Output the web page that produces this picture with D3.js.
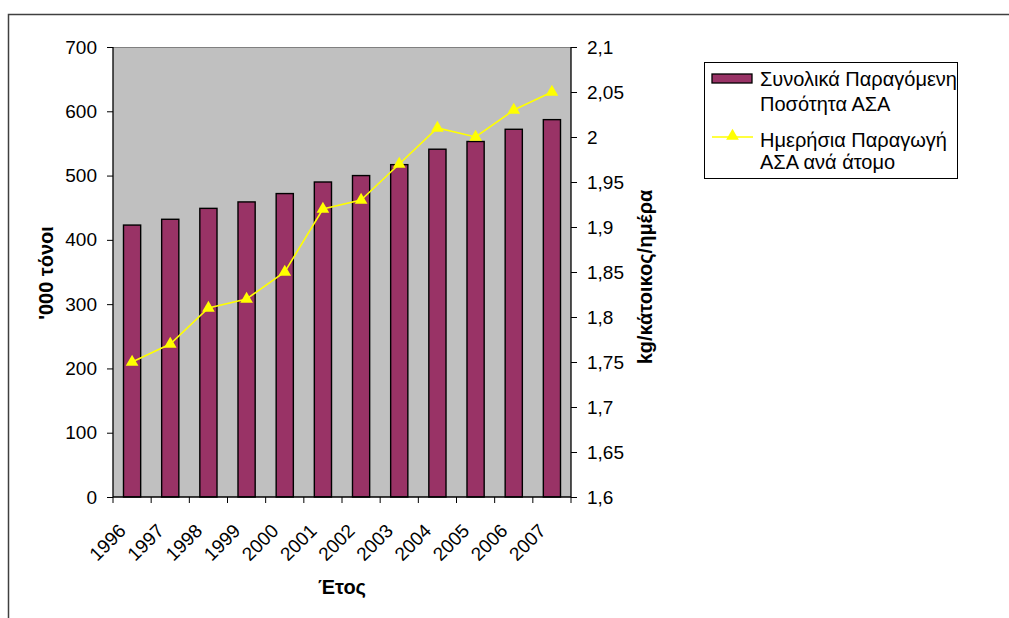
<!DOCTYPE html>
<html><head><meta charset="utf-8">
<script src="https://cdn.jsdelivr.net/npm/d3@7"></script>
<style>body{margin:0;background:#fff}svg{display:block}text{font-family:Arial,"Liberation Sans",sans-serif}</style>
</head><body><svg id="c" width="1009" height="618"></svg>
<script>
const years = ["1996","1997","1998","1999","2000","2001","2002","2003","2004","2005","2006","2007"];
const totalTonnes = [423,432,449,459,472,490,500,517,541,553,572,587];
const dailyPerCapita = [1.75,1.77,1.81,1.82,1.85,1.92,1.93,1.97,2.01,2.00,2.03,2.05];
const leftTicks = [0,100,200,300,400,500,600,700];
const rightTicks = [1.6,1.65,1.7,1.75,1.8,1.85,1.9,1.95,2.0,2.05,2.1];
const seriesNames = [["Συνολικά Παραγόμενη","Ποσότητα ΑΣΑ"],["Ημερήσια Παραγωγή","ΑΣΑ ανά άτομο"]];

const svg = d3.select("#c");
const L=113,R=571,T=47,B=497;
const x = d3.scaleBand().domain(years).range([L,R]).paddingInner(0.55).paddingOuter(0.275);
const xb = d3.scaleBand().domain(years).range([L,R]);
const yL = d3.scaleLinear().domain([0,700]).range([B,T]);
const yR = d3.scaleLinear().domain([1.6,2.1]).range([B,T]);
const fmt = d => d3.format(".2~f")(d).replace(".",",");

// outer frame
svg.append("path").attr("d","M8.5,618 V14.5 H1009").attr("fill","none").attr("stroke","#404040").attr("stroke-width",1.5);

// plot bg
svg.append("rect").attr("x",L).attr("y",T).attr("width",R-L).attr("height",B-T).attr("fill","#c0c0c0");
svg.append("line").attr("x1",L).attr("x2",R).attr("y1",T+0.5).attr("y2",T+0.5).attr("stroke","#808080");

// bars
svg.selectAll("rect.bar").data(years).join("rect").attr("class","bar")
 .attr("x",d=>x(d)).attr("width",x.bandwidth())
 .attr("y",(d,i)=>yL(totalTonnes[i])).attr("height",(d,i)=>B-yL(totalTonnes[i]))
 .attr("fill","#993366").attr("stroke","#000").attr("stroke-width",1.4);

// left axis
const la = svg.append("g").attr("transform",`translate(${L},0)`)
 .call(d3.axisLeft(yL).tickValues(leftTicks).tickSize(6).tickPadding(10).tickFormat(d3.format("d")));
la.select(".domain").attr("stroke","#000").attr("stroke-width",1.3).attr("d",`M0,${T}V${B}`);
la.selectAll("text").attr("font-size",19).attr("fill","#000");

// right axis
const ra = svg.append("g").attr("transform",`translate(${R},0)`)
 .call(d3.axisRight(yR).tickValues(rightTicks).tickSize(6).tickPadding(10).tickFormat(fmt));
ra.select(".domain").attr("stroke","#000").attr("stroke-width",1.3).attr("d",`M0,${T}V${B}`);
ra.selectAll("text").attr("font-size",19).attr("fill","#000");

// bottom axis: ticks at band boundaries
const xa = svg.append("g").attr("transform",`translate(0,${B})`);
xa.append("line").attr("x1",L).attr("x2",R).attr("stroke","#000").attr("stroke-width",1.3);
xa.selectAll("line.t").data(years.concat(["end"])).join("line").attr("class","t")
 .attr("x1",(d,i)=>i<years.length?xb(d):R).attr("x2",(d,i)=>i<years.length?xb(d):R)
 .attr("y1",0).attr("y2",6).attr("stroke","#000");
xa.selectAll("text").data(years).join("text")
 .attr("transform",d=>`translate(${xb(d)+xb.bandwidth()/2-5},${35}) rotate(-45)`)
 .attr("text-anchor","end").attr("font-size",19).text(d=>d);

// line series
const pts = years.map((d,i)=>[xb(d)+xb.bandwidth()/2, yR(dailyPerCapita[i])]);
svg.append("path").attr("d",d3.line()(pts)).attr("fill","none").attr("stroke","#ffff00").attr("stroke-width",1.6);
const tri = d3.symbol().type(d3.symbolTriangle).size(70);
svg.selectAll("path.m").data(pts).join("path").attr("class","m")
 .attr("transform",d=>`translate(${d[0]},${d[1]})`).attr("d",tri()).attr("fill","#ffff00");

// axis titles
svg.append("text").attr("transform",`translate(53,273) rotate(-90)`).attr("text-anchor","middle")
 .attr("font-size",20).attr("font-weight","bold").text("'000 τόνοι");
svg.append("text").attr("transform",`translate(652,277) rotate(-90)`).attr("text-anchor","middle")
 .attr("font-size",20).attr("font-weight","bold").text("kg/κάτοικος/ημέρα");
svg.append("text").attr("x",342).attr("y",594).attr("text-anchor","middle")
 .attr("font-size",20).attr("font-weight","bold").text("Έτος");

// legend
const lg = svg.append("g");
lg.append("rect").attr("x",704.5).attr("y",62.5).attr("width",253).attr("height",116).attr("fill","#fff").attr("stroke","#000");
lg.append("rect").attr("x",712).attr("y",74).attr("width",40).attr("height",9).attr("fill","#993366").attr("stroke","#000").attr("stroke-width",1.3);
lg.append("line").attr("x1",712).attr("x2",753).attr("y1",137).attr("y2",137).attr("stroke","#ffff00").attr("stroke-width",1.6);
lg.append("path").attr("transform","translate(732.5,136)").attr("d",tri()).attr("fill","#ffff00");
const lt = [[seriesNames[0][0],86],[seriesNames[0][1],111],[seriesNames[1][0],147],[seriesNames[1][1],169]];
lg.selectAll("text").data(lt).join("text").attr("x",760).attr("y",d=>d[1]).attr("font-size",20).text(d=>d[0]);
</script></body></html>
